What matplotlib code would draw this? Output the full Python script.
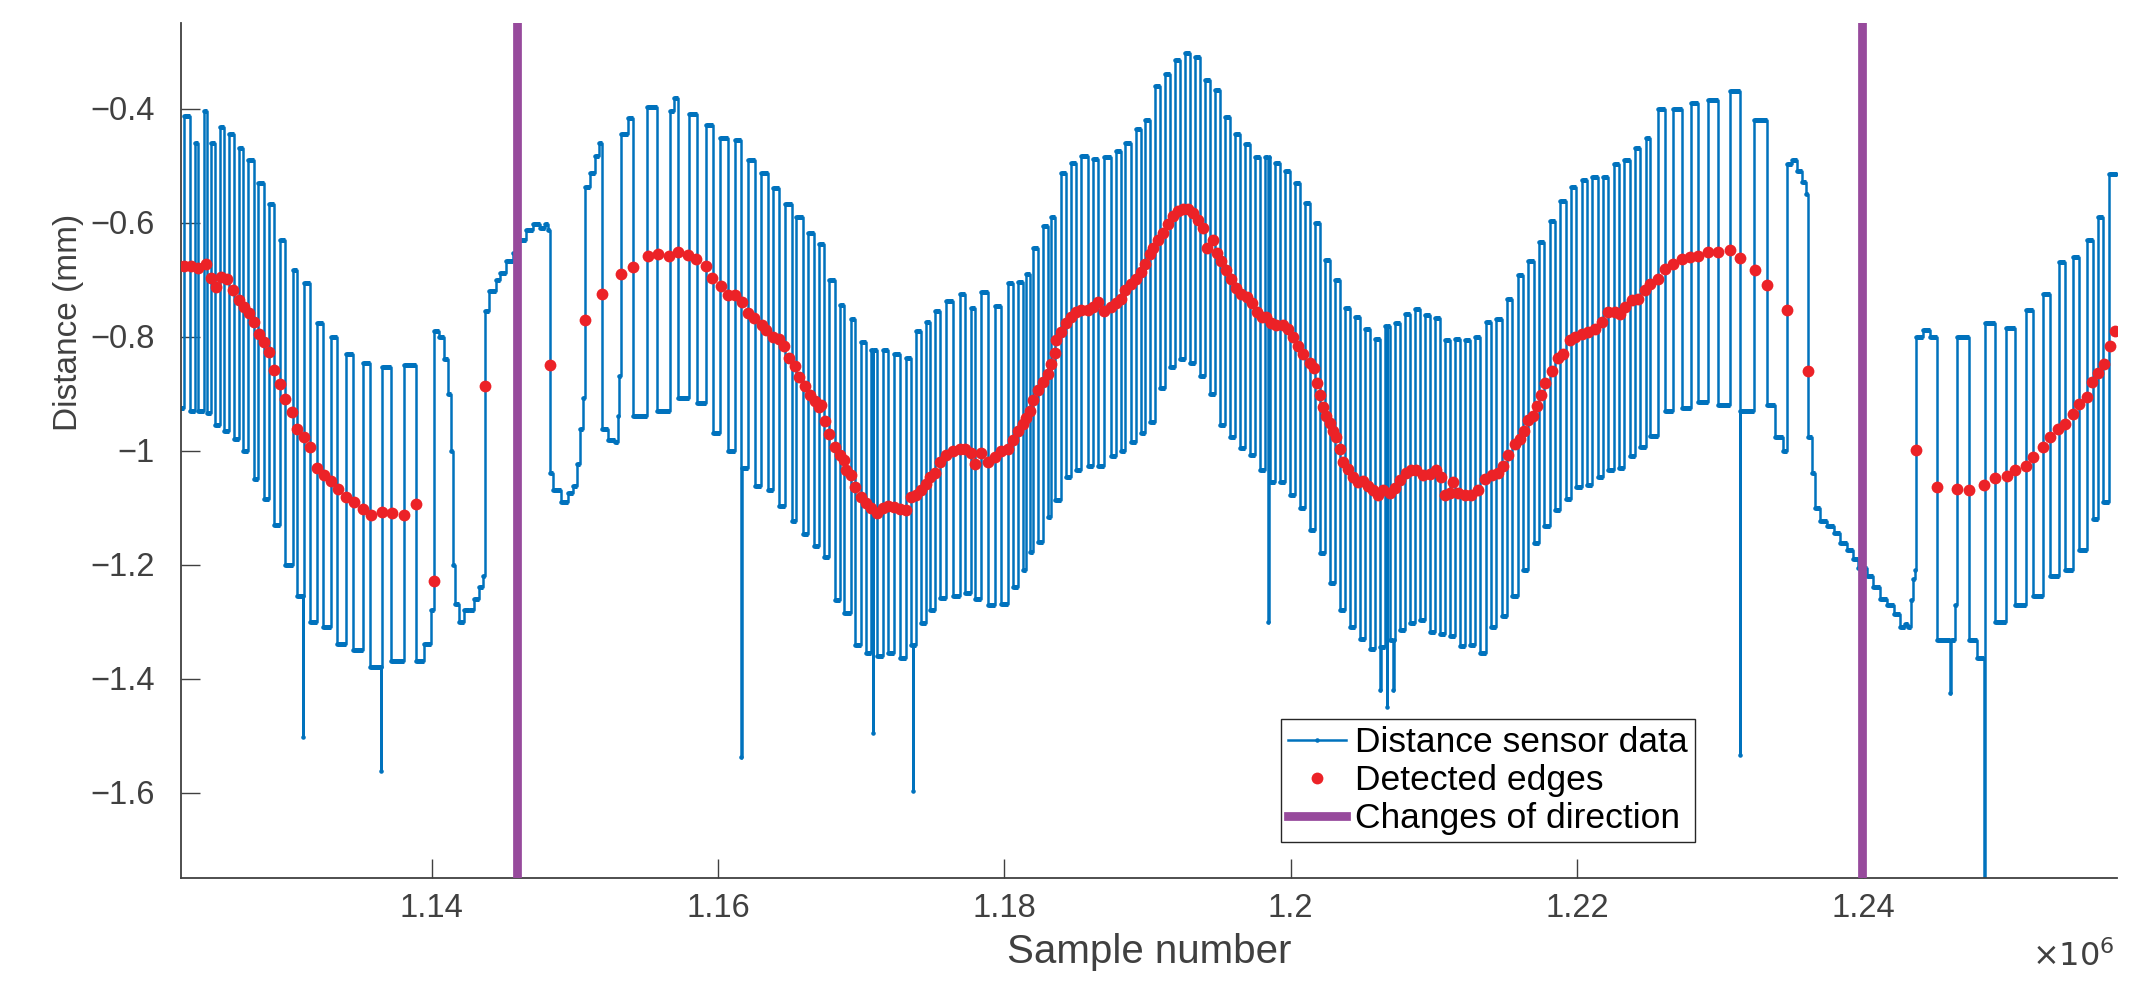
import matplotlib.pyplot as plt
import numpy as np
from matplotlib.ticker import FuncFormatter

plt.rcParams['font.family'] = ['Liberation Sans', 'DejaVu Sans']

# ---------- data (x in thousands of samples, y in mm) ----------
# sensor trace as step vertices: each (x, y) starts a level that holds until the next x
sensor_x = [
    1122.3, 1122.69, 1123.15, 1123.48, 1123.71, 1124.09, 1124.32, 1124.6, 1124.88, 1125.23,
    1125.53, 1125.88, 1126.18, 1126.53, 1126.85, 1127.2, 1127.58, 1127.86, 1128.27, 1128.67,
    1129.02, 1129.44, 1129.79, 1130.3, 1130.6, 1131.0, 1131.04, 1131.07, 1131.51, 1132.0,
    1132.39, 1132.97, 1133.39, 1134.02, 1134.49, 1135.18, 1135.72, 1136.45, 1136.49, 1136.51,
    1137.16, 1138.09, 1138.91, 1139.49, 1139.96, 1140.14, 1140.54, 1140.89, 1141.17, 1141.35,
    1141.49, 1141.63, 1141.93, 1142.28, 1142.63, 1142.98, 1143.33, 1143.56, 1143.72, 1144.03,
    1144.49, 1144.75, 1145.21, 1145.68, 1146.14, 1146.61, 1147.07, 1147.54, 1147.89, 1148.12,
    1148.24, 1148.47, 1149.05, 1149.52, 1149.87, 1150.15, 1150.38, 1150.56, 1150.75, 1151.08,
    1151.45, 1151.73, 1151.91, 1152.31, 1152.78, 1153.01, 1153.12, 1153.24, 1153.71, 1154.1,
    1155.03, 1155.78, 1156.66, 1156.96, 1157.22, 1157.96, 1158.52, 1159.17, 1159.64, 1160.18,
    1160.69, 1161.2, 1161.62, 1161.66, 1162.13, 1162.59, 1163.01, 1163.48, 1163.87, 1164.29,
    1164.71, 1165.18, 1165.46, 1165.92, 1166.27, 1166.74, 1167.09, 1167.43,
    1167.74, 1168.16, 1168.51, 1168.81, 1169.32, 1169.6, 1169.97, 1170.37, 1170.72, 1170.81,
    1170.85, 1171.14, 1171.53, 1171.88, 1172.3, 1172.69, 1173.16, 1173.46, 1173.6, 1173.64,
    1173.86, 1174.21, 1174.56, 1174.79, 1175.14, 1175.49, 1175.95, 1176.42, 1176.88, 1177.28,
    1177.7, 1177.93, 1178.4, 1178.86, 1179.33, 1179.79, 1180.26, 1180.61, 1180.96, 1181.3,
    1181.54, 1181.77, 1182.0, 1182.35, 1182.7, 1183.05, 1183.24, 1183.52, 1183.98, 1184.33,
    1184.68, 1185.03, 1185.38, 1185.84, 1186.19, 1186.54, 1187.0, 1187.47, 1187.82, 1188.17,
    1188.45, 1188.87, 1189.22, 1189.57, 1189.8, 1190.15,
    1190.52, 1190.87, 1191.22, 1191.57, 1191.92, 1192.27, 1192.61, 1192.96, 1193.31, 1193.66,
    1194.01, 1194.36, 1194.71, 1195.06, 1195.41, 1195.76, 1196.1, 1196.45, 1196.8, 1197.15,
    1197.5, 1197.85, 1198.2, 1198.43, 1198.47, 1198.55, 1198.9, 1199.25, 1199.6, 1199.94,
    1200.29, 1200.64, 1200.99, 1201.34, 1201.69, 1202.04, 1202.39, 1202.74, 1203.08, 1203.43,
    1203.78, 1204.13, 1204.48, 1204.83, 1205.18, 1205.53, 1205.88, 1206.23, 1206.27, 1206.31,
    1206.58, 1206.7, 1206.74, 1206.93, 1207.15, 1207.19, 1207.27, 1207.62, 1207.97, 1208.32,
    1208.67, 1209.02, 1209.37, 1209.72, 1210.07, 1210.42, 1210.76, 1211.11, 1211.46, 1211.81,
    1212.16, 1212.51,
    1212.88, 1213.25, 1213.63, 1214.0, 1214.37, 1214.74, 1215.12, 1215.49, 1215.86, 1216.23,
    1216.6, 1216.98, 1217.35, 1217.72, 1218.09, 1218.47, 1218.84, 1219.21, 1219.58, 1219.96,
    1220.33, 1220.7, 1221.07, 1221.44, 1221.82, 1222.19, 1222.56, 1222.93, 1223.31, 1223.68,
    1224.05, 1224.42, 1224.8, 1225.1, 1225.68, 1226.15, 1226.73, 1227.31, 1227.96, 1228.47,
    1229.17, 1229.87, 1230.68, 1231.38, 1231.42, 1232.38, 1233.29, 1233.83, 1234.41, 1234.69,
    1235.01, 1235.36, 1235.71, 1236.01, 1236.17, 1236.41, 1236.64, 1236.99, 1237.45, 1237.92,
    1238.38, 1238.85, 1239.31, 1239.66, 1240.24, 1240.71, 1241.18, 1241.64, 1242.11, 1242.57,
    1242.92, 1243.15, 1243.32, 1243.5, 1243.64, 1243.69, 1244.2, 1244.67, 1245.13, 1246.06,
    1246.1, 1246.41, 1246.53, 1247.41, 1247.92, 1248.46, 1248.5, 1249.2, 1249.97, 1250.6,
    1251.37, 1251.88, 1252.53, 1253.04, 1253.67, 1254.09, 1254.63, 1255.09, 1255.6, 1256.02,
    1256.42, 1256.77, 1257.18, 1257.8,
]
sensor_y = [
    -0.925, -0.413, -0.931, -0.46, -0.931, -0.405, -0.935, -0.46, -0.955, -0.432,
    -0.965, -0.444, -0.98, -0.47, -1.0, -0.49, -1.05, -0.53, -1.085, -0.568,
    -1.13, -0.63, -1.2, -0.684, -1.256, -1.503, -1.256, -0.707, -1.3, -0.776,
    -1.31, -0.80, -1.34, -0.83, -1.35, -0.846, -1.38, -1.563, -1.38, -0.854,
    -1.37, -0.85, -1.37, -1.34, -1.28, -0.79, -0.80, -0.84, -0.90, -1.0,
    -1.2, -1.27, -1.30, -1.28, -1.28, -1.26, -1.24, -1.22, -0.755, -0.72,
    -0.70, -0.688, -0.668, -0.653, -0.63, -0.614, -0.603, -0.61, -0.603, -0.614,
    -1.039, -1.07, -1.09, -1.074, -1.062, -1.024, -0.962, -0.908, -0.537, -0.514,
    -0.483, -0.46, -0.962, -0.981, -0.985, -0.939, -0.869, -0.444, -0.417, -0.939,
    -0.398, -0.931, -0.405, -0.382, -0.908, -0.409, -0.916, -0.429, -0.97, -0.452,
    -1.0, -0.456, -1.537, -1.031, -0.49, -1.062, -0.514, -1.07, -0.54, -1.097,
    -0.568, -1.124, -0.591, -1.147, -0.618, -1.167, -0.637, -1.186,
    -0.70, -1.263, -0.745, -1.285, -0.77, -1.341, -0.81, -1.356, -0.823, -1.496,
    -0.823, -1.36, -0.823, -1.356, -0.83, -1.364, -0.838, -1.341, -1.597, -1.341,
    -0.79, -1.302, -0.775, -1.28, -0.755, -1.258, -0.738, -1.256, -0.725, -1.25,
    -0.75, -1.26, -0.722, -1.271, -0.746, -1.27, -0.707, -1.24, -0.705, -1.209,
    -0.69, -1.178, -0.645, -1.16, -0.606, -1.117, -0.59, -1.086, -0.514, -1.047,
    -0.495, -1.035, -0.483, -1.028, -0.488, -1.028, -0.485, -1.01, -0.475, -1.0,
    -0.46, -0.985, -0.436, -0.97, -0.42, -0.95,
    -0.36, -0.89, -0.34, -0.854, -0.315, -0.84, -0.303, -0.846, -0.31, -0.87,
    -0.35, -0.9, -0.367, -0.955, -0.415, -0.977, -0.445, -0.996, -0.462, -1.008,
    -0.485, -1.035, -0.485, -1.3, -0.485, -1.055, -0.495, -1.055, -0.51, -1.078,
    -0.53, -1.1, -0.565, -1.14, -0.6, -1.18, -0.665, -1.233, -0.70, -1.28,
    -0.75, -1.31, -0.765, -1.33, -0.786, -1.348, -0.805, -1.345, -1.42, -1.345,
    -0.782, -1.45, -0.782, -1.333, -1.42, -1.333, -0.776, -1.315, -0.76, -1.302,
    -0.752, -1.298, -0.762, -1.318, -0.768, -1.322, -0.807, -1.325, -0.805, -1.343,
    -0.807, -1.341,
    -0.80, -1.356, -0.775, -1.31, -0.769, -1.29, -0.735, -1.255, -0.692, -1.21,
    -0.668, -1.163, -0.635, -1.132, -0.598, -1.105, -0.563, -1.085, -0.538, -1.064,
    -0.525, -1.06, -0.52, -1.047, -0.52, -1.035, -0.498, -1.03, -0.49, -1.01,
    -0.47, -0.993, -0.452, -0.975, -0.40, -0.93, -0.40, -0.925, -0.39, -0.915,
    -0.385, -0.92, -0.37, -1.535, -0.93, -0.42, -0.92, -0.977, -1.0, -0.498,
    -0.49, -0.51, -0.529, -0.55, -0.977, -1.04, -1.101, -1.124, -1.132, -1.144,
    -1.163, -1.175, -1.19, -1.206, -1.221, -1.24, -1.26, -1.271, -1.287, -1.31,
    -1.305, -1.31, -1.263, -1.225, -1.21, -0.80, -0.788, -0.80, -1.333, -1.426,
    -1.333, -1.271, -0.80, -1.333, -1.364, -1.9, -0.776, -1.30, -0.785, -1.271,
    -0.753, -1.255, -0.725, -1.22, -0.67, -1.21, -0.66, -1.175, -0.63, -1.12,
    -0.59, -1.09, -0.515, -0.515,
]

# detected edges (red dots)
edge_x = [
    1122.74, 1123.2, 1123.67, 1124.25, 1124.6, 1124.95, 1125.3, 1125.71, 1126.11, 1126.57,
    1126.92, 1127.27, 1127.58, 1127.97, 1128.27, 1128.67, 1129.02, 1129.44, 1129.79, 1130.25,
    1130.6, 1131.07, 1131.51, 1132.0, 1132.46, 1132.97, 1133.44, 1134.02, 1134.56, 1135.23,
    1135.77, 1136.51, 1137.21, 1138.09, 1138.91, 1140.14, 1143.72,
    1148.24, 1150.75, 1151.91, 1153.24, 1154.1, 1155.1, 1155.8, 1156.61, 1157.24, 1157.94,
    1158.48, 1159.17, 1159.59, 1160.22, 1160.69, 1161.22, 1161.66, 1162.08, 1162.55, 1163.06,
    1163.36, 1163.87, 1164.25, 1164.64, 1164.99, 1165.39, 1165.69, 1166.11, 1166.46, 1166.81,
    1167.09,
    1167.23, 1167.51, 1167.74, 1168.16, 1168.51, 1168.81, 1168.97, 1169.32, 1169.6, 1169.97,
    1170.37, 1170.72, 1171.14, 1171.53, 1171.88, 1172.3, 1172.69, 1173.16, 1173.46, 1173.86,
    1174.21, 1174.56, 1174.79, 1175.14, 1175.49, 1175.95, 1176.42, 1176.88, 1177.28, 1177.7,
    1177.93, 1178.4, 1178.86, 1179.33, 1179.79, 1180.26, 1180.61, 1180.96, 1181.3, 1181.54,
    1181.77, 1182.0, 1182.35, 1182.7, 1183.05, 1183.24, 1183.52, 1183.63, 1183.98, 1184.33,
    1184.68, 1185.03, 1185.38, 1185.84, 1186.19, 1186.54, 1187.0, 1187.47, 1187.82, 1188.17,
    1188.45, 1188.87, 1189.22, 1189.57, 1189.8, 1190.15,
    1190.4, 1190.75, 1191.1, 1191.45, 1191.8, 1192.15, 1192.5, 1192.85, 1193.2, 1193.54,
    1193.89, 1194.13, 1194.59, 1194.87, 1195.17, 1195.52, 1195.87, 1196.22, 1196.57, 1196.92,
    1197.27, 1197.62, 1197.97, 1198.31, 1198.66, 1199.01, 1199.48, 1199.83, 1200.18, 1200.53,
    1200.88, 1201.34, 1201.62, 1201.81, 1202.04, 1202.27, 1202.5, 1202.74, 1202.97, 1203.2,
    1203.43, 1203.67, 1204.02, 1204.37, 1204.71, 1205.06, 1205.41, 1205.76, 1206.11, 1206.46,
    1206.92, 1207.27, 1207.62, 1208.09, 1208.44, 1208.79, 1209.25, 1209.72, 1210.18, 1210.53,
    1210.76, 1211.11, 1211.35, 1211.69, 1212.16, 1212.63,
    1213.11, 1213.58, 1214.04, 1214.51, 1214.86, 1215.21, 1215.67, 1216.02, 1216.32, 1216.6,
    1216.95, 1217.19, 1217.49, 1217.77, 1218.23, 1218.7, 1219.05, 1219.51, 1219.86, 1220.33,
    1220.79, 1221.26, 1221.72, 1222.19, 1222.65, 1223.0, 1223.35, 1223.82, 1224.28, 1224.75,
    1225.1, 1225.68, 1226.15, 1226.73, 1227.31, 1227.89, 1228.47, 1229.17, 1229.87, 1230.68,
    1231.38, 1232.43, 1233.29, 1234.69,
    1236.17, 1243.69, 1245.13, 1246.53, 1247.41, 1248.44, 1249.2, 1250.02, 1250.6, 1251.37,
    1251.88, 1252.53, 1253.04, 1253.62, 1254.09, 1254.63, 1255.07, 1255.6, 1255.95, 1256.42,
    1256.81, 1257.23, 1257.58,
]
edge_y = [
    -0.676, -0.676, -0.68, -0.672, -0.697, -0.713, -0.695, -0.699, -0.718, -0.736,
    -0.749, -0.759, -0.774, -0.796, -0.81, -0.828, -0.859, -0.883, -0.909, -0.933,
    -0.962, -0.976, -0.994, -1.03, -1.043, -1.054, -1.067, -1.082, -1.09, -1.103,
    -1.114, -1.108, -1.11, -1.113, -1.094, -1.229, -0.887,
    -0.85, -0.771, -0.725, -0.691, -0.678, -0.659, -0.655, -0.658, -0.651, -0.657,
    -0.664, -0.676, -0.698, -0.711, -0.728, -0.728, -0.74, -0.759, -0.767, -0.779,
    -0.788, -0.8, -0.805, -0.817, -0.838, -0.851, -0.871, -0.887, -0.902, -0.914,
    -0.923,
    -0.92, -0.948, -0.971, -0.994, -1.008, -1.016, -1.034, -1.043, -1.064, -1.082,
    -1.092, -1.1, -1.11, -1.101, -1.097, -1.099, -1.102, -1.105, -1.082, -1.078,
    -1.069, -1.059, -1.047, -1.039, -1.02, -1.008, -1.001, -0.997, -0.997, -1.005,
    -1.024, -1.005, -1.02, -1.012, -1.001, -0.997, -0.981, -0.966, -0.954, -0.943,
    -0.931, -0.912, -0.893, -0.879, -0.866, -0.848, -0.829, -0.807, -0.792, -0.776,
    -0.765, -0.757, -0.753, -0.753, -0.749, -0.739, -0.755, -0.749, -0.742, -0.734,
    -0.718, -0.708, -0.699, -0.687, -0.672, -0.656,
    -0.645, -0.631, -0.618, -0.602, -0.589, -0.579, -0.576, -0.577, -0.583, -0.595,
    -0.61, -0.645, -0.63, -0.653, -0.668, -0.684, -0.699, -0.715, -0.726, -0.73,
    -0.741, -0.757, -0.765, -0.765, -0.776, -0.78, -0.78, -0.786, -0.8, -0.817,
    -0.831, -0.846, -0.855, -0.881, -0.902, -0.924, -0.94, -0.951, -0.966, -0.976,
    -0.997, -1.02, -1.032, -1.047, -1.055, -1.053, -1.063, -1.07, -1.078, -1.07,
    -1.074, -1.066, -1.051, -1.039, -1.035, -1.035, -1.043, -1.041, -1.035, -1.047,
    -1.078, -1.074, -1.055, -1.074, -1.078, -1.078,
    -1.07, -1.05, -1.043, -1.039, -1.028, -1.008, -0.989, -0.979, -0.966, -0.947,
    -0.939, -0.922, -0.902, -0.881, -0.861, -0.838, -0.83, -0.807, -0.8, -0.796,
    -0.792, -0.786, -0.775, -0.757, -0.757, -0.761, -0.749, -0.736, -0.734, -0.718,
    -0.708, -0.699, -0.681, -0.672, -0.664, -0.66, -0.658, -0.651, -0.651, -0.649,
    -0.662, -0.684, -0.709, -0.753,
    -0.86, -0.999, -1.064, -1.068, -1.069, -1.061, -1.049, -1.045, -1.035, -1.028,
    -1.011, -0.994, -0.977, -0.962, -0.954, -0.936, -0.918, -0.906, -0.879, -0.864,
    -0.848, -0.817, -0.79,
]

# changes of direction
turn_x = [1145.98, 1239.92]

x_ticks = [1140, 1160, 1180, 1200, 1220, 1240]
y_ticks = [-1.6, -1.4, -1.2, -1.0, -0.8, -0.6, -0.4]

# ---------- plot ----------
blue = '#0072BD'
red = '#EC2227'
purple = '#974A9C'
grey = '#404040'

fig = plt.figure(figsize=(21.51, 9.91), dpi=100)
ax = fig.add_axes([181 / 2151, 1 - 878 / 991, 1936 / 2151, 855 / 991])

sx = np.array(sensor_x) * 1e3
sy = np.array(sensor_y)
ax.plot(sx, sy, drawstyle='steps-post', color=blue, lw=1.8, marker='.', ms=4.5,
        label='Distance sensor data', zorder=2)
# thicker plateaus, the raw trace is noisy there
ax.hlines(sy[:-1], sx[:-1], sx[1:], color=blue, lw=3.6, zorder=2)

ax.plot(np.array(edge_x) * 1e3, edge_y, 'o', color=red, ms=8.5, mec='none',
        label='Detected edges', zorder=3)

for i, t in enumerate(turn_x):
    ax.axvline(t * 1e3, color=purple, lw=6.3, zorder=4,
               label='Changes of direction' if i == 0 else None)

ax.set_xlim(1122.5e3, 1257.72e3)
ax.set_ylim(-1.75, -0.25)
ax.set_xticks(np.array(x_ticks) * 1e3)
ax.set_yticks(y_ticks)
ax.xaxis.set_major_formatter(FuncFormatter(lambda v, p: f'{v / 1e6:g}'))
ax.yaxis.set_major_formatter(FuncFormatter(lambda v, p: f'{v:g}'.replace('-', '\u2212')))

for side in ['top', 'right']:
    ax.spines[side].set_visible(False)
for side in ['left', 'bottom']:
    ax.spines[side].set_color(grey)
    ax.spines[side].set_linewidth(1.3)
ax.tick_params(direction='in', length=14, width=1.0, colors=grey, labelsize=23.5)
ax.tick_params(axis='x', pad=11)
ax.tick_params(axis='y', pad=19)

ax.set_xlabel('Sample number', fontsize=29, color=grey, labelpad=6)
ax.set_ylabel('Distance (mm)', fontsize=24, color=grey)
ax.yaxis.set_label_coords(-0.05, 0.65)
ax.text(0.999, -0.092, r'$\times10^{6}$', transform=ax.transAxes, ha='right', va='center',
        fontsize=23, color=grey)

leg = ax.legend(loc='lower right', bbox_to_anchor=(0.782, 0.042), fontsize=25.5,
                frameon=True, fancybox=False, framealpha=1, edgecolor='#262626',
                handlelength=1.65, borderpad=0.2, labelspacing=0.14, handletextpad=0.25,
                borderaxespad=0)
leg.get_frame().set_linewidth(1.0)

fig.savefig('out.png', dpi=100)
